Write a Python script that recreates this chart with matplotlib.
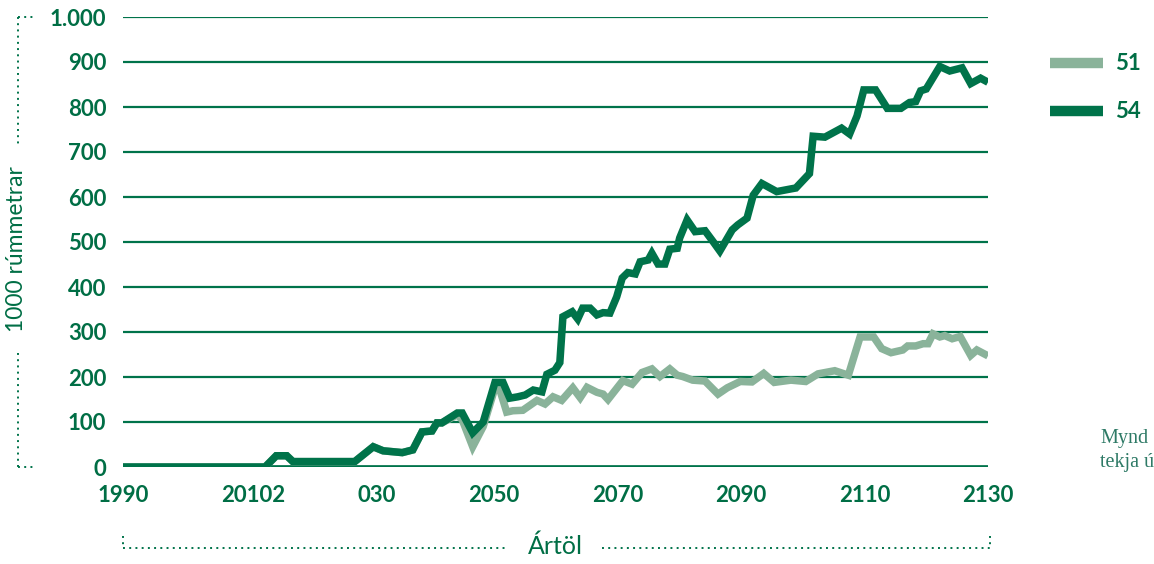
import matplotlib
matplotlib.use("Agg")
import matplotlib.pyplot as plt
from matplotlib.lines import Line2D

# ---------------- data ----------------
years_54 = [1990, 2013.0, 2014.8, 2016.5, 2017.5, 2027.5, 2030.5, 2032.1, 2035.2, 2036.9,
            2038.4, 2040.0, 2040.8, 2041.6, 2044.1, 2044.9, 2046.6, 2048.3, 2050.2, 2051.5,
            2052.6, 2053.9, 2055.1, 2056.4, 2057.8, 2058.6, 2059.9, 2060.7, 2061.2, 2062.7,
            2063.6, 2064.4, 2065.6, 2066.7, 2067.7, 2068.8, 2069.9, 2070.8, 2071.7, 2072.9,
            2073.7, 2075.0, 2075.6, 2076.6, 2077.7, 2078.5, 2079.7, 2080.1, 2081.3, 2082.6,
            2084.2, 2085.5, 2086.6, 2088.6, 2089.5, 2091.0, 2092.0, 2093.4, 2095.8, 2098.1,
            2098.9, 2101.1, 2101.7, 2103.6, 2106.3, 2107.6, 2108.8, 2109.9, 2111.8, 2113.7,
            2115.9, 2117.3, 2118.3, 2119.1, 2120.0, 2122.2, 2123.8, 2125.8, 2127.2, 2128.8,
            2130.0]
vals_54 = [0, 0, 25, 25, 12, 12, 45, 36, 32, 38,
           78, 80, 98, 98, 120, 120, 76, 100, 188, 188,
           153, 156, 160, 171, 167, 206, 215, 232, 334, 345,
           329, 353, 353, 338, 343, 342, 378, 420, 432, 429,
           456, 460, 475, 451, 451, 484, 486, 509, 549, 523,
           525, 501, 480, 527, 538, 553, 604, 630, 612, 618,
           620, 652, 735, 733, 753, 740, 780, 838, 838, 797,
           797, 810, 812, 836, 840, 890, 880, 887, 852, 864,
           855]

years_51 = [1990, 2013.0, 2014.8, 2016.5, 2017.5, 2027.5, 2030.5, 2032.1, 2035.2, 2036.9,
            2038.4, 2040.0, 2040.8, 2041.6, 2044.1, 2044.9, 2046.6, 2048.3, 2050.2, 2050.8,
            2052.1, 2053.1, 2054.7, 2057.0, 2058.3, 2059.6, 2061.0, 2062.8, 2064.0, 2065.1,
            2066.7, 2067.7, 2068.5, 2070.9, 2072.4, 2074.0, 2075.6, 2076.9, 2078.5, 2079.7,
            2080.6, 2082.2, 2084.2, 2086.3, 2087.8, 2089.9, 2091.8, 2093.7, 2095.4, 2098.1,
            2100.5, 2102.5, 2105.2, 2107.4, 2108.2, 2109.3, 2111.5, 2112.8, 2114.3, 2116.2,
            2117.0, 2118.3, 2119.5, 2120.3, 2121.1, 2122.2, 2123.0, 2124.2, 2125.5, 2127.2,
            2128.2, 2130.0]
vals_51 = [0, 0, 25, 25, 12, 12, 45, 36, 32, 38,
           78, 80, 98, 98, 116, 105, 45, 90, 176, 180,
           122, 125, 126, 148, 140, 156, 148, 176, 154, 177,
           166, 162, 150, 192, 184, 210, 218, 201, 218, 204,
           201, 193, 191, 162, 176, 190, 189, 208, 188, 193,
           190, 207, 214, 204, 240, 289, 289, 263, 254, 260,
           269, 269, 274, 274, 296, 289, 292, 285, 290, 248,
           260, 247]

series_names = ["51", "54"]
y_ticks = [0, 100, 200, 300, 400, 500, 600, 700, 800, 900, 1000]
y_tick_labels = ["0", "100", "200", "300", "400", "500", "600", "700", "800", "900", "1.000"]
x_ticks = [1990, 2011, 2031, 2050, 2070, 2090, 2110, 2130]
x_tick_labels = ["1990", "20102", "030", "2050", "2070", "2090", "2110", "2130"]
y_label = "1000 rúmmetrar"
x_label = "Ártöl"
note_lines = ["Mynd", "tekja ú"]

# ---------------- style ----------------
DARK = "#00734A"
LIGHT = "#8AB39A"
TEXT = "#006E45"
W, H = 1154, 564
FONT = "Lato"


def fx(x):
    return x / W


def fy(y):
    return 1 - y / H


fig = plt.figure(figsize=(W / 100, H / 100), dpi=100)
ax = fig.add_axes([fx(123), fy(467), (988 - 123) / W, (467 - 17) / H])
ax.set_xlim(1990, 2130)
ax.set_ylim(0, 1000)

for yv in y_ticks[1:]:
    ax.axhline(yv, color=DARK, lw=1.6, zorder=1)
ax.axhline(0, color=DARK, lw=3.4, zorder=2)

ax.plot(years_51, vals_51, color=LIGHT, lw=5.4, solid_joinstyle="miter",
        solid_capstyle="butt", zorder=3)
ax.plot(years_54, vals_54, color=DARK, lw=5.4, solid_joinstyle="miter",
        solid_capstyle="butt", zorder=4)

for s in ax.spines.values():
    s.set_visible(False)
ax.set_yticks(y_ticks)
ax.set_yticklabels(y_tick_labels)
ax.set_xticks(x_ticks)
ax.set_xticklabels(x_tick_labels)
ax.tick_params(axis="both", length=0, labelcolor=TEXT, labelsize=16)
ax.tick_params(axis="y", pad=12)
ax.tick_params(axis="x", pad=13)
for lab in ax.get_xticklabels() + ax.get_yticklabels():
    lab.set_fontfamily(FONT)
    lab.set_fontweight("bold")

# axis titles
fig.text(fx(17), fy(249), y_label, rotation=90, ha="center", va="center",
         fontsize=16.5, color=TEXT, family=FONT)
fig.text(fx(555), fy(546), x_label, ha="center", va="center",
         fontsize=18, color=TEXT, family=FONT)

# dotted brackets
dot = dict(color=DARK, lw=1.4, linestyle=(0, (1, 2.2)), transform=fig.transFigure)
fig.add_artist(Line2D([fx(18), fx(18)], [fy(17), fy(144)], **dot))
fig.add_artist(Line2D([fx(18), fx(18)], [fy(353), fy(467)], **dot))
fig.add_artist(Line2D([fx(18), fx(36)], [fy(17), fy(17)], **dot))
fig.add_artist(Line2D([fx(18), fx(36)], [fy(467), fy(467)], **dot))
fig.add_artist(Line2D([fx(123), fx(507)], [fy(548), fy(548)], **dot))
fig.add_artist(Line2D([fx(602), fx(990)], [fy(548), fy(548)], **dot))
fig.add_artist(Line2D([fx(123), fx(123)], [fy(536), fy(548)], **dot))
fig.add_artist(Line2D([fx(990), fx(990)], [fy(536), fy(548)], **dot))

# legend
leg_y = [63, 111]
for name, col, yy in zip(series_names, [LIGHT, DARK], leg_y):
    fig.add_artist(Line2D([fx(1050), fx(1103)], [fy(yy), fy(yy)], color=col, lw=7.5,
                          solid_capstyle="butt", transform=fig.transFigure))
    fig.text(fx(1115), fy(yy), name, ha="left", va="center", fontsize=16,
             color=TEXT, family=FONT, fontweight="bold")

# cut-off note on the right
for i, line in enumerate(note_lines):
    fig.text(fx(1100), fy(438 + 24 * i), line, ha="left", va="center", fontsize=14.5,
             color="#2E7A66", family="Liberation Serif")

fig.savefig("out.png", dpi=100)
